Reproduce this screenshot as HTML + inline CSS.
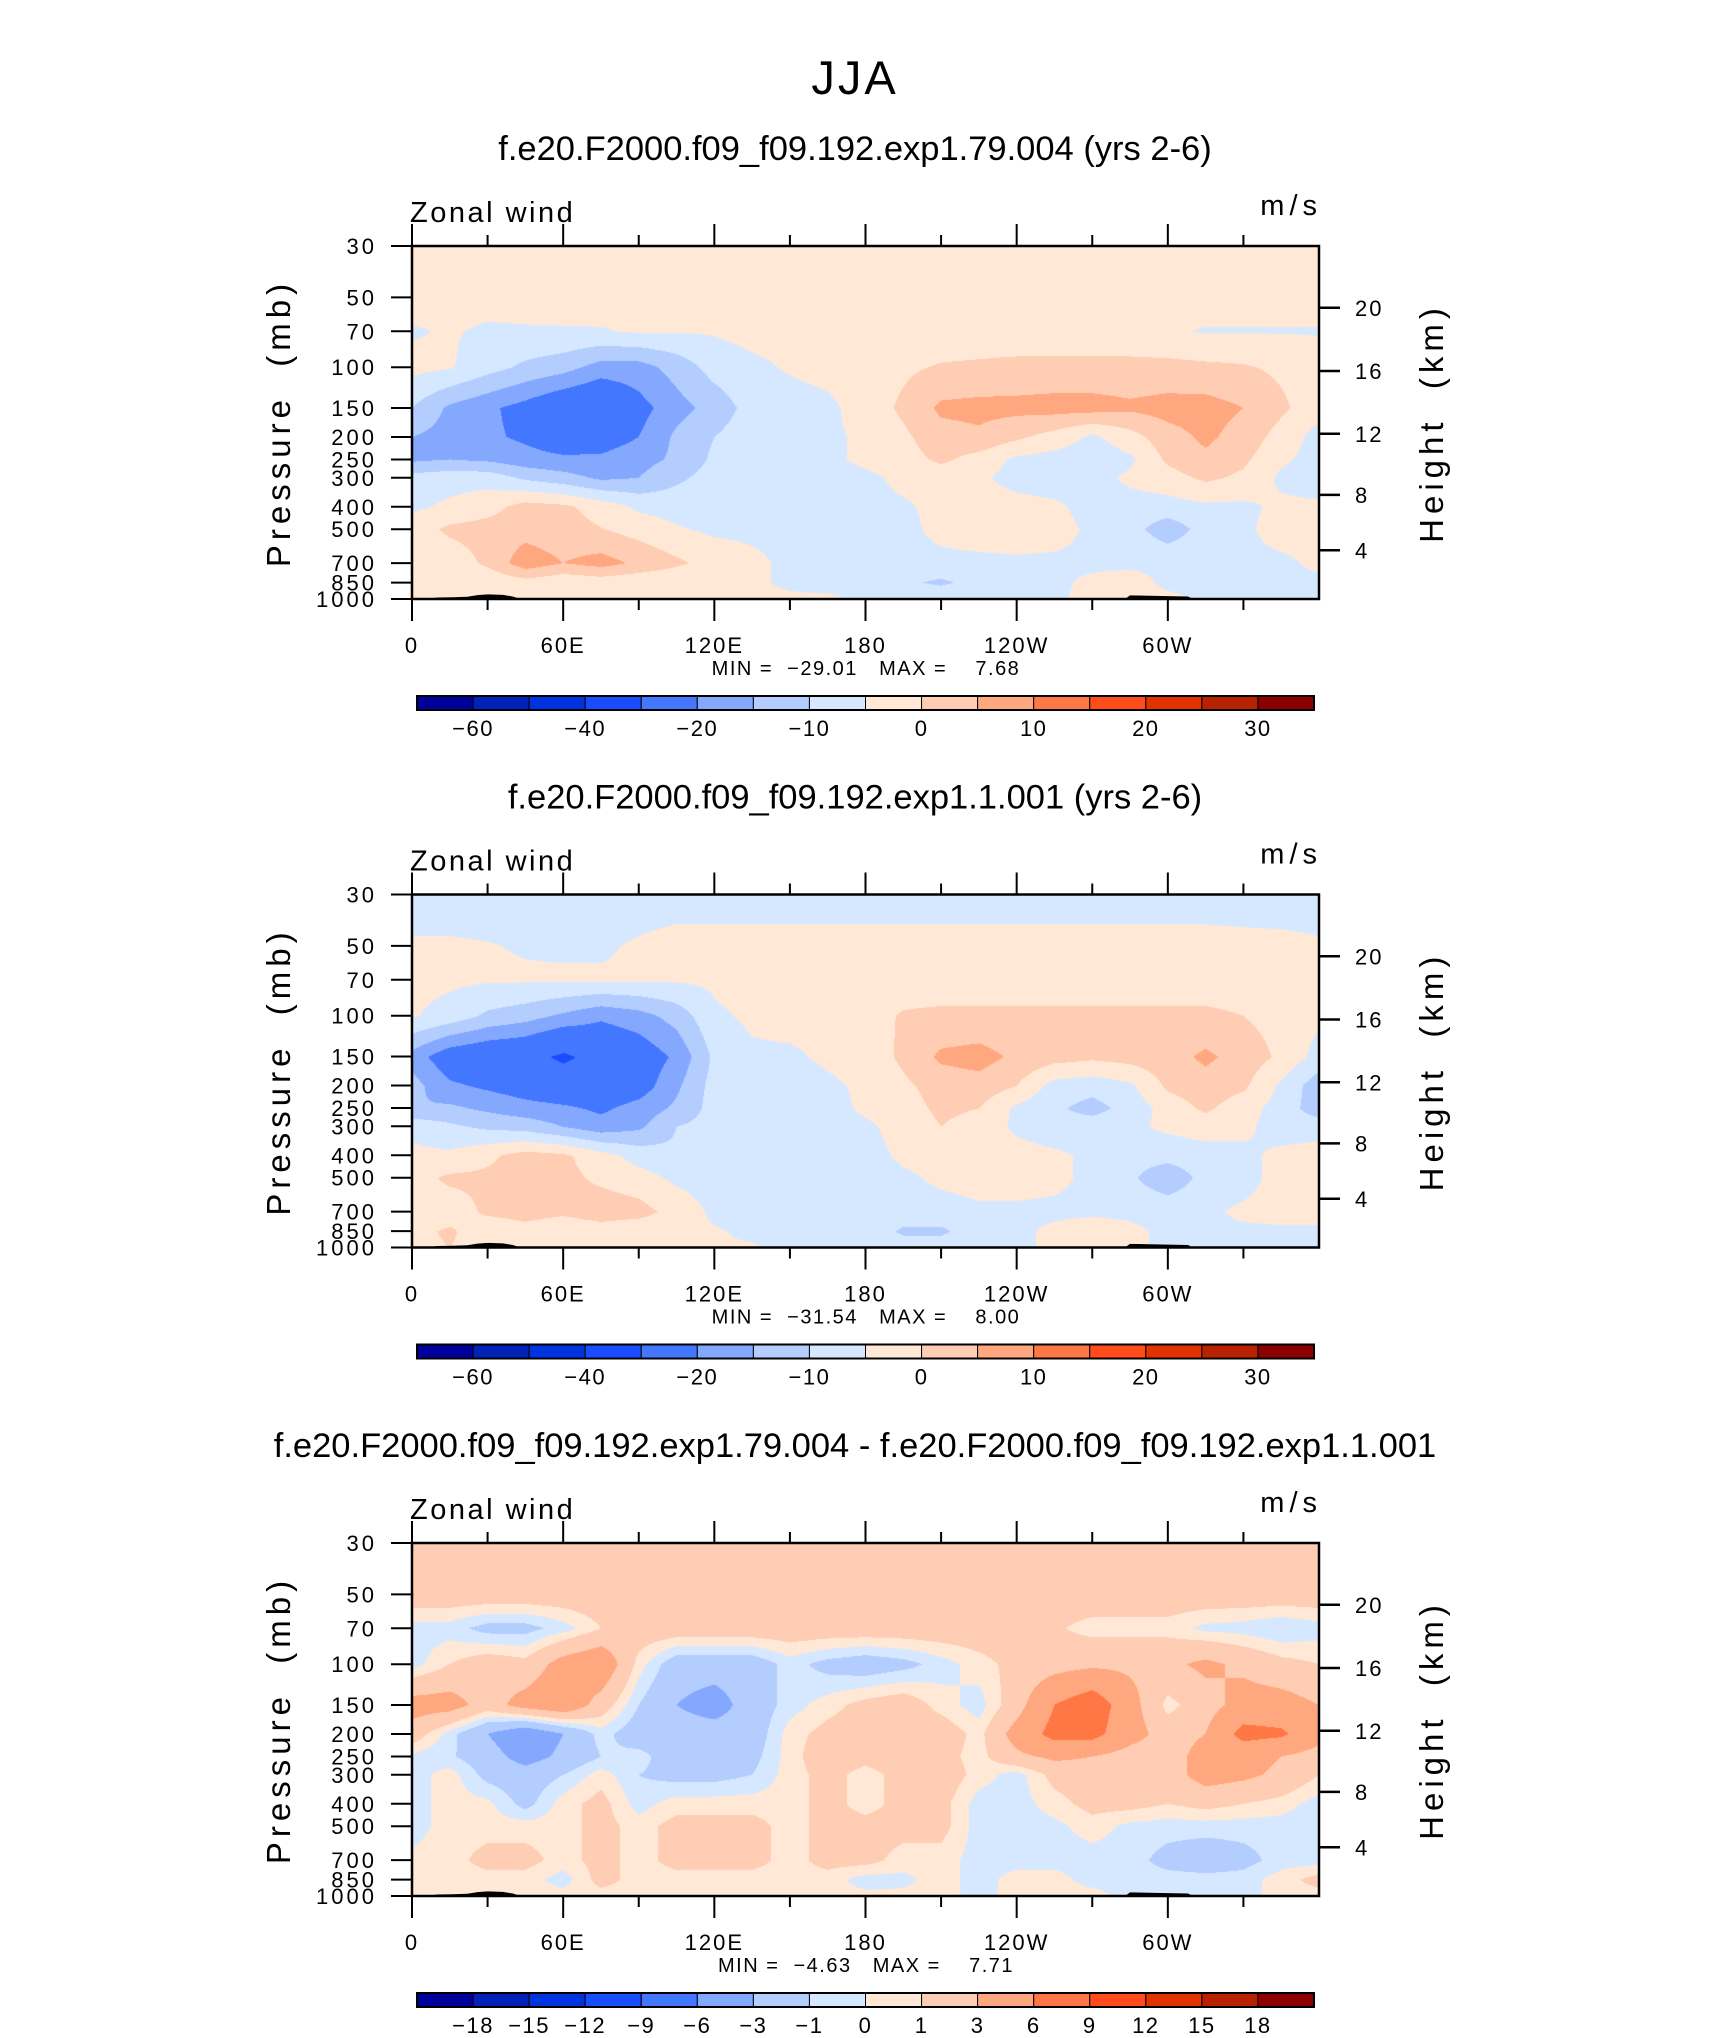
<!DOCTYPE html>
<html><head><meta charset="utf-8">
<style>
html,body{margin:0;padding:0;background:#fff;}
#wrap{position:relative;width:1710px;height:2038px;overflow:hidden;background:#fff;}
canvas{position:absolute;}
svg{position:absolute;left:0;top:0;}
text{font-family:"Liberation Sans",sans-serif;fill:#000;white-space:pre;}
</style></head>
<body>
<div id="wrap">
<canvas id="c0"></canvas>
<canvas id="c1"></canvas>
<canvas id="c2"></canvas>
<svg id="ov" width="1710" height="2038" xmlns="http://www.w3.org/2000/svg">
<text x="855" y="94" text-anchor="middle" font-size="47" letter-spacing="3">JJA</text>
</svg>
</div>
<script>
// ---------- data ----------
const levels = [30,50,70,100,150,200,250,300,400,500,700,850,1000];
const lons = [0,15,30,45,60,75,90,105,120,135,150,165,180,195,210,225,240,255,270,285,300,315,330,345,360];
const lonLabels = ["0","60E","120E","180","120W","60W"];
const lonLabelValues = [0,60,120,180,240,300];
const presLabels = [30,50,70,100,150,200,250,300,400,500,700,850,1000];
const heightTicks = [20,16,12,8,4];
const heightFrac = [0.175,0.354,0.532,0.705,0.862];
const topoLon = [6,10,16,22,26,30,36,40,43,100,101,118,119,283,285,300,308,310];
const topoP =  [1000,985,983,978,962,955,960,975,1000,1000,992,992,1000,1000,965,972,975,1000];
const colors = ["#00009a","#0022b8","#0033e0","#1a4cff","#4477ff","#85a8ff","#b3cdff","#d6e8ff","#ffe9d6","#ffcdb3","#ffa87f","#ff7744","#ff4c1a","#e03300","#b82200","#8b0000"];
const levsA = [-60,-50,-40,-30,-20,-15,-10,-5,0,5,10,15,20,25,30];
const levsB = [-18,-15,-12,-9,-6,-3,-1,0,1,3,6,9,12,15,18];
const cbLabelsA = ["-60","-40","-20","-10","0","10","20","30"];
const cbLabelIdxA = [0,2,4,6,8,10,12,14];
const cbLabelsB = ["-18","-15","-12","-9","-6","-3","-1","0","1","3","6","9","12","15","18"];
const cbLabelIdxB = [0,1,2,3,4,5,6,7,8,9,10,11,12,13,14];
const titles = ["f.e20.F2000.f09_f09.192.exp1.79.004 (yrs 2-6)","f.e20.F2000.f09_f09.192.exp1.1.001 (yrs 2-6)","f.e20.F2000.f09_f09.192.exp1.79.004 - f.e20.F2000.f09_f09.192.exp1.1.001"];
const minVals = ["-29.01","-31.54","-4.63"];
const maxVals = ["7.68","8.00","7.71"];

const u1 = [
[-3,-3,-3,-3,-3,-3,-3,-3,-3,-3,-3,-3,-3,-3,-3,-3,-3,-3,-3,-3,-3,-3,-3,-3,-3],
[-3,-3,-3,-3,-3,-3,-3,-3,-3,-3,-3,-3,-3,-3,-3,-3,-3,-3,-3,-3,-3,-3,-3,-3,-3],
[-5.5,-4.5,-5.8,-5.5,-5.4,-5.3,-4.5,-4.7,-4.5,-3.5,-3.5,-3.5,-3.5,-3.5,-3.5,-3.5,-3.5,-3.5,-3.5,-3.5,-4.5,-5.3,-5.3,-5.3,-5.3],
[-3.5,-4.5,-8,-11,-13,-17,-17,-13,-8,-6,-4.5,-3.5,-2.5,-1,0.5,1,1.5,1.5,1.5,1.5,1.5,1,0.5,-1,-3],
[-10,-16,-19,-22,-26,-28,-22,-17,-13,-8,-7,-6,-3,1,6,6.5,6.5,7,7,6,7,7,5,1,-3],
[-15,-17,-19,-21,-24,-23,-20,-14,-10,-7,-6.5,-6,-4,-1,3,4,1,-2,-6,-2,3,6,3,-2,-7],
[-16,-15,-16,-18,-19,-19,-17,-14,-9,-7,-7,-6,-4,-2,1,-2,-6,-7,-8,-6,1,4,1,-4,-7],
[-8,-7,-7,-11,-13,-16,-15,-11,-8,-7,-7,-6.5,-6,-4,-3,-4,-7,-8,-7,-4,-2,1,-1,-6,-8],
[-6,-4,-2,2,1,-2,-6,-7,-8,-8,-8,-7,-6,-5.5,-4,-3,-3,-4,-7,-7,-7,-6,-6,-4,-4],
[-2.5,1,2,3,2,0.2,-2,-4.5,-6,-6,-6,-6,-6,-6,-4,-3,-2,-3,-6,-8,-13,-8,-6,-3,-3],
[-4,-3,1,8,5,7,4,1,-2,-4,-6,-6,-6,-6,-6,-6,-6,-6,-6,-6,-6,-6,-6,-6,-4],
[-3,-1,-4,-2,-4,-3,-4,-4.5,-4.5,-4.5,-5.5,-6,-6,-9,-11,-8,-6,-6,-4,-3,-6,-6,-6,-6,-6],
[-3,0,-3,-4,-4,-4,-4,-4.5,-4.5,-4.5,-4.5,-4.5,-5.5,-5.5,-5.5,-5.5,-5.5,-5.5,-4,-3,-4,-6,-6,-6,-6]
];
const u2 = [
[-7,-7,-7,-7,-7,-7,-7,-7,-7,-7,-7,-7,-7,-7,-7,-7,-7,-7,-7,-7,-7,-7,-7,-7,-7],
[-4.5,-4.5,-4.8,-5.3,-5.5,-5.5,-4.5,-3.5,-3.5,-3.5,-3.5,-3.5,-3.5,-3.5,-3.5,-3.5,-3.5,-3.5,-3.5,-3.5,-3.5,-3.5,-3.8,-4,-4.5],
[-3.5,-4,-4.5,-4.5,-4.5,-4.5,-4.5,-4.5,-4,-2.5,-2.5,-2.5,-2.5,-2.5,-2.5,-2.5,-2.5,-2.5,-2.5,-2.5,-2.5,-2.5,-2.5,-2.5,-3],
[-4.5,-7,-11,-13,-16,-19,-17,-13,-6,-4,-3,-3,-2,0.5,1,1,1,1,1,1,1,1,0,-2,-4],
[-17,-24,-26,-27,-31.5,-27,-24,-19,-9,-6,-6,-4,-3,1,6,7,4,2,1,2,3,6,3,-1,-7],
[-13,-19,-21,-23,-25,-25,-23,-16,-8,-7,-8,-6,-4,-1,2,3,0,-7,-8,-6,1,3,1,-6,-13],
[-15,-14,-16,-18,-19,-21,-18,-14,-8,-7,-7,-7,-4,-2,1,0,-6,-9,-12,-8,-3,1,-3,-7,-13],
[-6,-9,-11,-12,-15,-18,-16,-10,-8,-7,-7,-7,-6,-3,0,-2,-6,-8,-7,-6,-4,-3,-4,-7,-7],
[-4,-4,-1,2,1,-3,-7,-9,-8,-7,-7,-7,-7,-4,-3,-3,-3,-4,-6,-8,-8,-7,-6,-4,-3],
[-2,1,1,2,1.5,-1,-3,-6,-7,-7,-7,-7,-7,-6,-4,-3,-3,-4,-6,-9,-14,-8,-7,-3,-2],
[-4,-3,1,2,1,3,2,-2,-6,-7,-7,-7,-7,-7,-7,-6,-6,-6,-6,-6,-6,-6,-4,-3,-3],
[-2,1,-4,-2,-4,-3,-4,-4,-4.5,-6,-6,-6,-6,-11,-11,-7,-6,-4,-2,-4,-6,-6,-6,-6,-6],
[-2,0,-3,-3,-4,-4,-4,-4,-4.5,-4.5,-6,-6,-6,-7,-7,-6,-6,-4,-2,-4,-6,-6,-6,-6,-6]
];
const u3 = [
[2,2,2,2,2,2,2,2,2,2,2,2,2,2,2,2,2,2,2,2,2,2,2,2,2],
[2,2,2,2,2,2,2,2,2,2,2,2,2,2,2,2,2,2,2,2,2,2,2,2,2],
[-0.5,-0.5,-1.5,-1.5,-0.5,1,2,2,2,2,2,2,2,2,2,2,2,1.2,0.5,0.5,0.5,-0.3,-0.5,-1,-0.5],
[-0.5,1,2,1.5,4,5,0.5,-2,-2,-2,-0.5,-1.5,-2,-1.5,-0.5,0.5,1.5,2,2.5,2.5,2.5,3.5,2.5,1.5,1],
[4,4,2,4,5,2,-1,-3,-4,-2,-0.5,0.5,1.5,2,0.5,-0.5,2,6,8,4,0.5,2,4,4,3],
[2,-0.5,-3,-5,-3,-0.5,-2,-2,-2,-2,0.5,1.5,2,2,2,0.5,4,7,7,4,2,3,7,6.5,4],
[-0.3,-0.8,-2,-4,-2.5,-1,-0.5,-2,-2,-1.5,0.5,2,1.5,2,1.5,0.5,2.5,3.5,3,2,2,4,4,3,2],
[-0.5,0.5,-1.5,-2,-1,0.5,-1,-1.5,-1.5,-1,0.5,1.5,0.5,1.5,2,0.5,-0.5,1.5,2,1.5,2,4,3.5,2.5,1],
[-0.5,0.5,0.3,-1.5,0.5,1.5,-0.5,0.5,0.5,0.5,0.5,1.5,0.5,1.5,1.5,-0.5,-0.5,0.5,1.5,1.5,1,1.5,1,0.5,-0.5],
[-0.5,0.5,0.5,0.5,0.5,1.5,0.5,1.5,1.5,1.5,0.5,1.5,1.5,1.5,1.5,-0.5,-0.5,-0.3,0.5,-0.3,-0.5,-0.5,-0.5,-0.5,-0.5],
[0.3,0.5,1.5,1.5,0.5,1.5,0.5,1.5,1.5,1.5,0.5,1.5,1.5,0.5,0.5,-0.5,-0.5,-0.5,-0.5,-0.5,-1.5,-2,-1.5,-0.5,-0.5],
[0.5,0.5,0.5,0.5,-0.5,1.5,0.5,0.5,0.5,0.5,0.5,0.5,-0.5,-0.3,0.5,-0.5,0.5,0.5,-0.5,-0.5,-0.5,-0.5,-0.5,0.5,1.5],
[0.5,0.5,0.5,0.5,0.5,0.5,0.5,0.5,0.5,0.5,0.5,0.5,0.3,0.3,0.5,-0.5,0.5,0.5,0.5,-0.5,-0.5,-0.5,-0.5,0.5,0.5]
];
const fields = [u1,u2,u3];
const fieldLevs = [levsA,levsA,levsB];

// ---------- geometry ----------
const PX = 412, PW = 907, PH = 353;
const tops = [246, 894.5, 1543];
const NS = "http://www.w3.org/2000/svg";
const ov = document.getElementById('ov');
const lnP = p => Math.log(p/30)/Math.log(1000/30);
const yOf = (p, top) => top + lnP(p)*PH;
const xOf = lon => PX + lon/360*PW;

function el(tag, attrs, parent){
  const e = document.createElementNS(NS, tag);
  for (const k in attrs) e.setAttribute(k, attrs[k]);
  (parent||ov).appendChild(e);
  return e;
}
function txt(str, attrs, parent){ const t = el('text', attrs, parent); t.textContent = str; return t; }

function sample(F, lon, p){
  let i = Math.min(Math.floor(lon/15), lons.length-2);
  const tx = (lon - lons[i])/15;
  const lp = Math.log(p);
  let j = 0;
  while (j < levels.length-2 && Math.log(levels[j+1]) < lp) j++;
  const ty = Math.max(0, Math.min(1, (lp - Math.log(levels[j]))/(Math.log(levels[j+1]) - Math.log(levels[j]))));
  const a = F[j][i]*(1-tx) + F[j][i+1]*tx;
  const b = F[j+1][i]*(1-tx) + F[j+1][i+1]*tx;
  return a*(1-ty) + b*ty;
}
function hex(c){ return [parseInt(c.substr(1,2),16),parseInt(c.substr(3,2),16),parseInt(c.substr(5,2),16)]; }
const rgb = colors.map(hex);

for (let k=0;k<3;k++){
  const cv = document.getElementById('c'+k);
  const top = Math.round(tops[k]);
  cv.width = PW; cv.height = PH;
  cv.style.left = PX+'px'; cv.style.top = top+'px';
  const ctx = cv.getContext('2d');
  const img = ctx.createImageData(PW, PH);
  const F = fields[k], L = fieldLevs[k];
  for (let y=0;y<PH;y++){
    const p = 30*Math.pow(1000/30, (y+0.5)/PH);
    for (let x=0;x<PW;x++){
      const v = sample(F, (x+0.5)/PW*360, p);
      let c = 0; while (c < L.length && v >= L[c]) c++;
      const col = rgb[c]; const o = (y*PW+x)*4;
      img.data[o]=col[0]; img.data[o+1]=col[1]; img.data[o+2]=col[2]; img.data[o+3]=255;
    }
  }
  ctx.putImageData(img,0,0);
}

// ---------- overlay ----------
for (let k=0;k<3;k++){
  const top = tops[k], bot = top+PH;
  const g = el('g', {});
  
  
  const t = txt(titles[k], {x:855, y:top-86, 'text-anchor':'middle', 'font-size':34.5}, g);
  
  
  const zw = txt('Zonal wind', {x:410, y:top-24, 'font-size':29, 'letter-spacing':2.5}, g);
  
  
  const ms = txt('m/s', {x:1322, y:top-31, 'text-anchor':'end', 'font-size':29, 'letter-spacing':5}, g);
  
  
  // topography
  let d = 'M'+xOf(topoLon[0])+','+bot;
  for (let i=0;i<topoLon.length;i++) d += ' L'+xOf(topoLon[i]).toFixed(1)+','+yOf(topoP[i],top).toFixed(1);
  d += ' L'+xOf(topoLon[topoLon.length-1])+','+bot+' Z';
  const tp = el('path', {d:d, fill:'#000'}, g);
  
  
  // frame
  const fr = el('rect', {x:PX, y:top, width:PW, height:PH, fill:'none', stroke:'#000', 'stroke-width':2.5}, g);
  
  
  // lon ticks
  for (let lon=0; lon<=330; lon+=30){
    const x = xOf(lon), major = lon%60===0, len = major?22:11;
    const t1 = el('line', {x1:x, y1:top, x2:x, y2:top-len, stroke:'#000', 'stroke-width':2}, g);
    
    
    const t2 = el('line', {x1:x, y1:bot, x2:x, y2:bot+len, stroke:'#000', 'stroke-width':2}, g);
    
    
  }
  for (let i=0;i<lonLabels.length;i++){
    const l = txt(lonLabels[i], {x:xOf(lonLabelValues[i]), y:bot+54, 'text-anchor':'middle', 'font-size':22, 'letter-spacing':2}, g);
    
    
  }
  const mm = txt('MIN =  '+minVals[k].replace('-','\u2212')+'   MAX =    '+maxVals[k], {x:866, y:bot+76, 'text-anchor':'middle', 'font-size':20, 'letter-spacing':1.5}, g);
  
  
  // pressure axis
  for (const p of presLabels){
    const y = yOf(p, top);
    const tk = el('line', {x1:PX-21, y1:y, x2:PX, y2:y, stroke:'#000', 'stroke-width':2}, g);
    
    
    const lb = txt(String(p), {x:377, y:y+8, 'text-anchor':'end', 'font-size':22, 'letter-spacing':3}, g);
    
    
  }
  const yt = txt('Pressure  (mb)', {x:0, y:0, 'text-anchor':'middle', 'font-size':33, 'letter-spacing':5, transform:'translate(290,'+(top+177)+') rotate(-90)'}, g);
  
  
  // height axis
  for (let i=0;i<heightTicks.length;i++){
    const y = top + heightFrac[i]*PH;
    const tk = el('line', {x1:PX+PW, y1:y, x2:PX+PW+21, y2:y, stroke:'#000', 'stroke-width':2.5}, g);
    
    
    const lb = txt(String(heightTicks[i]), {x:1355, y:y+8, 'font-size':22, 'letter-spacing':2}, g);
    
    
  }
  const ht = txt('Height  (km)', {x:0, y:0, 'text-anchor':'middle', 'font-size':33, 'letter-spacing':5, transform:'translate(1443,'+(top+177)+') rotate(-90)'}, g);
  
  
  // colorbar
  const cbY = top+450, cbX = 417, cbW = 897, n = colors.length, bw = cbW/n;
  for (let i=0;i<n;i++){
    const r = el('rect', {x:cbX+i*bw, y:cbY, width:bw, height:14, fill:colors[i], stroke:'#000', 'stroke-width':1}, g);
    
    
  }
  const cbr = el('rect', {x:cbX, y:cbY, width:cbW, height:14, fill:'none', stroke:'#000', 'stroke-width':2}, g);
  
  
  const labs = k<2?cbLabelsA:cbLabelsB, idx = k<2?cbLabelIdxA:cbLabelIdxB;
  for (let i=0;i<labs.length;i++){
    const lb = txt(labs[i].replace('-','\u2212'), {x:cbX+(idx[i]+1)*bw, y:cbY+40, 'text-anchor':'middle', 'font-size':22, 'letter-spacing':1.5}, g);
    
    
  }
}
</script>
</body></html>
